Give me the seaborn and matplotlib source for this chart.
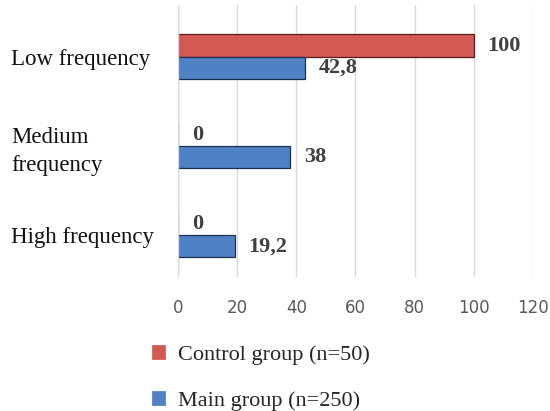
import matplotlib
matplotlib.use('Agg')

import seaborn as sns
import matplotlib.pyplot as plt
import pandas as pd

categories = ['Low frequency', 'Medium\nfrequency', 'High frequency']
groups = ['Control group (n=50)', 'Main group (n=250)']
control_values = [100, 0, 0]
main_values = [42.8, 38, 19.2]
x_ticks = [0, 20, 40, 60, 80, 100, 120]

RED = '#d35955'
BLUE = '#4f81c4'

if __name__ == "__main__":

    df = pd.DataFrame({
        'category': categories * 2,
        'group': [groups[0]] * 3 + [groups[1]] * 3,
        'value': control_values + main_values,
    })

    sns.set_style('white')
    serif = ['Liberation Serif', 'DejaVu Serif']

    fig = plt.figure(figsize=(5.5, 4.11), dpi=100)
    ax = fig.add_axes([0.3236, 0.326, 0.6455, 0.662])

    sns.barplot(data=df, y='category', x='value', hue='group',
        order=categories, hue_order=groups,
        palette=[RED, BLUE], saturation=1, orient='h', width=0.5,
        linewidth=0.9, ax=ax)

    # darker edges per series
    for container, edge in zip(ax.containers, ['#5e1a18', '#1c3150']):
        for bar in container:
            bar.set_edgecolor(edge)

    # value labels, decimal comma
    for container in ax.containers:
        labels = [('%g' % b.get_width()).replace('.', ',') for b in container]
        ax.bar_label(container, labels=labels, padding=10,
            fontsize=16, fontweight='bold', color='#404040',
            family=serif)

    ax.set_xlim(0, 120)
    ax.set_ylim(2.47, -0.58)
    ax.set_xticks(x_ticks)
    ax.xaxis.grid(True, color='#d9d9d9', linewidth=1)
    ax.yaxis.grid(False)
    for side in ['top', 'right', 'bottom', 'left']:
        ax.spines[side].set_visible(False)
    ax.axvline(0, color='#d9d9d9', linewidth=1)

    ax.set_xlabel('')
    ax.set_ylabel('')
    ax.tick_params(axis='x', length=0, pad=16, labelsize=12, labelcolor='#595959')
    ax.tick_params(axis='y', length=0, pad=120)
    for lbl in ax.get_yticklabels():
        lbl.set_horizontalalignment('left')
        lbl.set_family(serif)
        lbl.set_fontsize(16.5)
        lbl.set_linespacing(1.4)
        lbl.set_color('#111111')

    ax.legend(loc='upper left', bbox_to_anchor=(0.274, 0.163),
        bbox_transform=fig.transFigure, frameon=False,
        prop={'family': serif, 'size': 16},
        handlelength=0.7, handleheight=0.7, handletextpad=0.55,
        labelspacing=1.15, borderpad=0, borderaxespad=0)

    plt.savefig('out.png', dpi=100)
